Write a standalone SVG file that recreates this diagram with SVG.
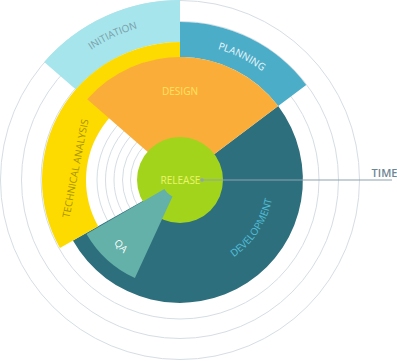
<svg xmlns="http://www.w3.org/2000/svg" width="397" height="361" viewBox="0 0 397 361">
<style>
.ring{fill:none;stroke:#d5dee4;stroke-width:1}
.lbl{font-family:"Open Sans","Liberation Sans",sans-serif;font-size:10px;text-anchor:middle}
</style>
<defs>
<path id="pInit" d="M37.3,113.4 A157.5,157.5 0 0 1 220.8,27.9"/>
<path id="pPlan" d="M148.4,47.4 A136.3,136.3 0 0 1 305.1,125.9"/>
<path id="pDev" d="M196.3,272.6 A94,94 0 0 0 271.6,158.9"/>
</defs>
<rect width="397" height="361" fill="#ffffff"/>
<g id="rings">
<circle class="ring" cx="180" cy="180" r="179.5"/>
<circle class="ring" cx="180" cy="180" r="158.5"/>
<circle class="ring" cx="180" cy="180" r="139"/>
<circle class="ring" cx="180" cy="180" r="83"/>
<circle class="ring" cx="180" cy="180" r="74.5"/>
<circle class="ring" cx="180" cy="180" r="66"/>
<circle class="ring" cx="180" cy="180" r="57.5"/>
<circle class="ring" cx="180" cy="180" r="49.5"/>
</g>
<g id="initiation">
<path d="M44.2,61.9 A180,180 0 0 1 180,0 L180,42 A138,138 0 0 0 75.9,89.5 Z" fill="#a6e5ec"/>
<text class="lbl" fill="#7a9ea8"><textPath href="#pInit" startOffset="50%">INITIATION</textPath></text>
</g>
<g id="planning">
<path d="M180,22 A158,158 0 0 1 306.2,84.9 L278.2,106 A123,123 0 0 0 180,57 Z" fill="#4badc8"/>
<text class="lbl" fill="#eef8fb"><textPath href="#pPlan" startOffset="50%">PLANNING</textPath></text>
</g>
<g id="development">
<path d="M180,180 L278.2,106 A123,123 0 1 1 72.9,240.6 Z" fill="#2e6f7d"/>
<text class="lbl" fill="#52c0dc"><textPath href="#pDev" startOffset="50%">DEVELOPMENT</textPath></text>
</g>
<g id="technical-analysis">
<path d="M59.9,248 A138,138 0 0 1 180,42 L180,86 A94,94 0 0 0 98.2,226.3 Z" fill="#fedb00"/>
<text class="lbl" fill="#a69300" transform="translate(75.5,168.5) rotate(-79)" y="3.5">TECHNICAL ANALYSIS</text>
</g>
<g id="design">
<path d="M180,180 L87.2,99.3 A123,123 0 0 1 278.2,106 Z" fill="#fbad3a"/>
<text class="lbl" fill="#fde35f" x="180" y="95">DESIGN</text>
</g>
<g id="release">
<circle cx="180" cy="180" r="43" fill="#a2d41c"/>
<text class="lbl" fill="#ecf46c" x="180.5" y="183.5">RELEASE</text>
</g>
<g id="qa">
<path d="M86.5,234 A108,108 0 0 0 134.9,278.1 L172.5,196.4 A18,18 0 0 1 164.4,189 Z" fill="#63b1a8"/>
<text class="lbl" fill="#ffffff" transform="translate(121,246) rotate(45)" y="3.5">QA</text>
</g>
<g id="connectors">
<line x1="202" y1="180" x2="392" y2="180" stroke="#8ea4af" stroke-width="1.2"/>
<circle cx="202" cy="180" r="1.8" fill="#8ea4af"/>
</g>
<g id="time">
<text x="384.5" y="177" font-family="'Open Sans','Liberation Sans',sans-serif" font-size="11" font-weight="600" fill="#6d8694" text-anchor="middle">TIME</text>
</g>
</svg>
